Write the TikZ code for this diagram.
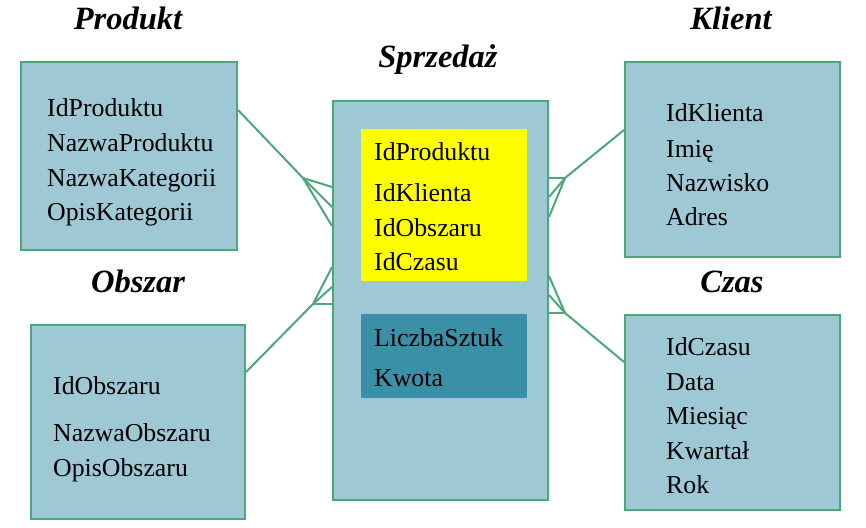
\documentclass[tikz,border=0pt]{standalone}
\usepackage{fontspec}
\setmainfont{Liberation Serif}
\usetikzlibrary{positioning}
\definecolor{tabfill}{HTML}{9DC8D4}
\definecolor{tabline}{HTML}{4CA77B}
\definecolor{keyfill}{HTML}{FFFF00}
\definecolor{measfill}{HTML}{3A90A6}
\tikzset{
	dimbox/.style={draw=tabline, fill=tabfill, line width=2pt, inner sep=0pt, anchor=north west},
	colbox/.style={inner sep=0pt, anchor=north west},
	attr/.style={anchor=base west, inner sep=0pt, font=\fontsize{25.8}{30}\selectfont},
	tabname/.style={anchor=base, inner sep=0pt, font=\fontsize{32.5}{38}\selectfont\bfseries\itshape},
	link/.style={draw=tabline, line width=2pt}
}
\begin{document}
\begin{tikzpicture}[x=1pt, y=-1pt]
				\useasboundingbox (0,0) rectangle (866,527);
				% Tables:
				\node[dimbox, minimum width=216pt, minimum height=188pt](produkt) at (20, 61){};
				\node[dimbox, minimum width=214pt, minimum height=194pt](obszar) at (30, 324){};
				\node[dimbox, minimum width=215pt, minimum height=399pt](sprzedaz) at (332, 100){};
				\node[dimbox, minimum width=215pt, minimum height=195pt](klient) at (624, 61){};
				\node[dimbox, minimum width=215pt, minimum height=195pt](czas) at (624, 314){};
				\node[colbox, fill=keyfill, minimum width=166pt, minimum height=152pt](klucze) at (361, 129){};
				\node[colbox, fill=measfill, minimum width=166pt, minimum height=84pt](miary) at (361, 314){};
				% Titles:
				\node[tabname](tP) at (128, 30){Produkt};
				\node[tabname](tO) at (138, 292){Obszar};
				\node[tabname](tS) at (438, 67){Sprzedaż};
				\node[tabname](tK) at (731, 30){Klient};
				\node[tabname](tC) at (732, 292){Czas};
				% Attributes:
				\node[attr](p1) at (47, 116){IdProduktu};
				\node[attr](p2) at (47, 151){NazwaProduktu};
				\node[attr](p3) at (47, 186){NazwaKategorii};
				\node[attr](p4) at (47, 220){OpisKategorii};
				\node[attr](o1) at (53, 394){IdObszaru};
				\node[attr](o2) at (53, 441){NazwaObszaru};
				\node[attr](o3) at (53, 476){OpisObszaru};
				\node[attr](s1) at (374, 160){IdProduktu};
				\node[attr](s2) at (374, 201){IdKlienta};
				\node[attr](s3) at (374, 236){IdObszaru};
				\node[attr](s4) at (374, 270){IdCzasu};
				\node[attr](s5) at (374, 346){LiczbaSztuk};
				\node[attr](s6) at (374, 386){Kwota};
				\node[attr](k1) at (666, 121){IdKlienta};
				\node[attr](k2) at (666, 157){Imię};
				\node[attr](k3) at (666, 191){Nazwisko};
				\node[attr](k4) at (666, 225){Adres};
				\node[attr](c1) at (666, 355){IdCzasu};
				\node[attr](c2) at (666, 390){Data};
				\node[attr](c3) at (666, 424){Miesiąc};
				\node[attr](c4) at (666, 459){Kwartał};
				\node[attr](c5) at (666, 493){Rok};
				% Relations (crow's feet):
				\coordinate (fP) at (303, 178);
				\coordinate (fO) at (313, 304);
				\coordinate (fK) at (565, 178);
				\coordinate (fC) at (565, 313);
				\draw[link] (produkt.east |- 0,110) -- (fP);
				\draw[link] (fP) -- (sprzedaz.west |- 0,187);
				\draw[link] (fP) -- (sprzedaz.west |- 0,207);
				\draw[link] (fP) -- (sprzedaz.west |- 0,226);
				\draw[link] (obszar.east |- 0,372) -- (fO);
				\draw[link] (fO) -- (sprzedaz.west |- 0,267);
				\draw[link] (fO) -- (sprzedaz.west |- 0,287);
				\draw[link] (fO) -- (sprzedaz.west |- 0,304);
				\draw[link] (klient.west |- 0,130) -- (fK);
				\draw[link] (fK) -- (sprzedaz.east |- 0,178);
				\draw[link] (fK) -- (sprzedaz.east |- 0,197);
				\draw[link] (fK) -- (sprzedaz.east |- 0,217);
				\draw[link] (czas.west |- 0,362) -- (fC);
				\draw[link] (fC) -- (sprzedaz.east |- 0,313);
				\draw[link] (fC) -- (sprzedaz.east |- 0,295);
				\draw[link] (fC) -- (sprzedaz.east |- 0,276);
			\end{tikzpicture}
\end{document}
